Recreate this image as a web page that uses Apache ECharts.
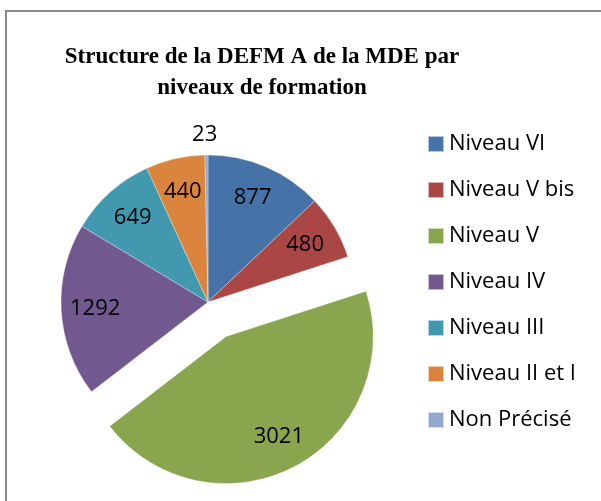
<!DOCTYPE html>
<html>
<head>
<meta charset="utf-8">
<script src="https://cdn.jsdelivr.net/npm/echarts@6/dist/echarts.min.js"></script>
<style>
  html, body { margin: 0; padding: 0; background: #fff; }
  #frame { position: absolute; left: 5px; top: 10px; width: 596px; height: 491px;
           border-left: 2px solid #8a8a8a; border-top: 2px solid #8a8a8a; box-sizing: border-box; }
  #chart { position: absolute; left: 0; top: 0; width: 601px; height: 501px; }
</style>
</head>
<body>
<div id="frame"></div>
<div id="chart"></div>
<script>
const categories = ['Niveau VI', 'Niveau V bis', 'Niveau V', 'Niveau IV', 'Niveau III', 'Niveau II et I', 'Non Précisé'];
const values = [877, 480, 3021, 1292, 649, 440, 23];
const colors = ['#4572A7', '#AA4643', '#89A54E', '#71588F', '#4198AF', '#DB843D', '#93A9CF'];
const explodedCategory = 'Niveau V';
const outsideLabelCategory = 'Non Précisé';
const titleText = 'Structure de la DEFM A de la MDE par\nniveaux de formation';

const labelFont = { fontFamily: 'Open Sans', fontSize: 22, color: '#000' };

const mainData = categories.map((c, i) => ({
  name: c, value: values[i],
  selected: c === explodedCategory,
  itemStyle: { color: colors[i] }
}));

const labelData = categories.map((c, i) => {
  const d = { name: c, value: values[i], selected: c === explodedCategory };
  if (c === outsideLabelCategory) {
    d.label = { position: 'outside', distanceToLabelLine: -11 };
    d.labelLine = { show: false, length: 20, length2: 0 };
  }
  return d;
});

const chart = echarts.init(document.getElementById('chart'), null, { renderer: 'canvas' });
chart.setOption({
  animation: false,
  title: {
    text: titleText,
    left: 257, top: 37, textAlign: 'center',
    textStyle: { fontFamily: 'Liberation Serif', fontWeight: 'bold', fontSize: 23, lineHeight: 31, color: '#000' }
  },
  legend: {
    orient: 'vertical', left: 427, top: 133, padding: 0,
    itemWidth: 16, itemHeight: 16, itemGap: 24,
    icon: 'rect',
    data: categories,
    textStyle: { fontFamily: 'Open Sans', fontSize: 22, lineHeight: 22, color: '#000' },
    selectedMode: false
  },
  series: [
    {
      type: 'pie', name: 'main',
      center: [208, 302], radius: 147,
      startAngle: 90, clockwise: true,
      selectedMode: 'single', selectedOffset: 39,
      label: { show: false }, labelLine: { show: false },
      itemStyle: { borderColor: 'rgba(255,255,255,0.6)', borderWidth: 0.5 },
      emphasis: { disabled: true },
      select: { itemStyle: { borderColor: 'rgba(255,255,255,0.6)', borderWidth: 0.5 } },
      data: mainData
    },
    {
      type: 'pie', name: 'labels',
      center: [208, 302], radius: [73, 147],
      startAngle: 90, clockwise: true,
      selectedMode: 'single', selectedOffset: 39,
      silent: true, avoidLabelOverlap: false,
      itemStyle: { color: 'rgba(0,0,0,0)' },
      select: { itemStyle: { color: 'rgba(0,0,0,0)' } },
      emphasis: { disabled: true },
      label: Object.assign({ show: true, position: 'inside', formatter: '{c}' }, labelFont),
      labelLine: { show: false },
      data: labelData
    }
  ]
});
</script>
</body>
</html>
